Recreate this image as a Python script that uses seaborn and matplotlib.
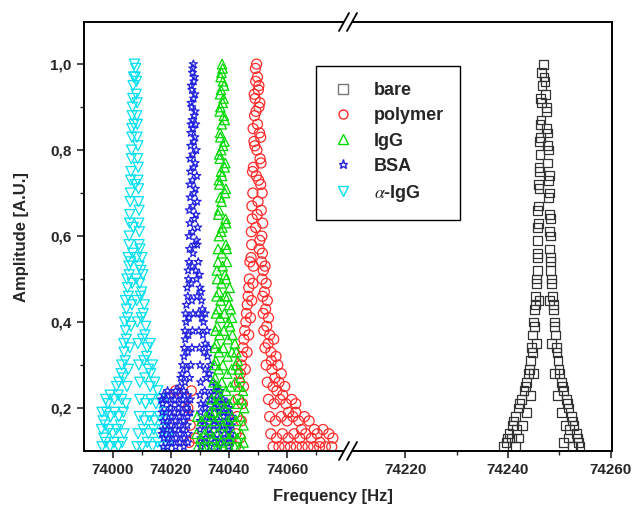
# Resonance peaks of a cantilever after each coating step (broken frequency axis)

import numpy as np
import pandas as pd
import matplotlib
matplotlib.use('Agg')
import matplotlib.pyplot as plt
import seaborn as sns
from matplotlib.lines import Line2D
from matplotlib.patches import Polygon
from matplotlib.ticker import FixedLocator, FuncFormatter

sns.set_style('ticks')
plt.rcParams['font.family'] = ['Liberation Sans', 'DejaVu Sans']
plt.rcParams['mathtext.fontset'] = 'stix'

# (frequency [Hz], amplitude)
bare_pts = [
    (74246.9, 1.00), (74247.0, 0.97), (74246.6, 0.95), (74247.3, 0.93), (74246.5, 0.91),
    (74247.4, 0.89), (74246.4, 0.87), (74247.5, 0.85), (74246.3, 0.83), (74247.6, 0.81),
    (74246.2, 0.79), (74247.7, 0.77), (74246.1, 0.75), (74247.8, 0.73), (74246.0, 0.71),
    (74247.9, 0.69), (74245.9, 0.67), (74248.0, 0.65), (74245.9, 0.63), (74248.1, 0.61),
    (74245.8, 0.59), (74248.1, 0.57),
    (74245.8, 0.55), (74245.7, 0.52), (74245.5, 0.49), (74245.4, 0.46), (74245.2, 0.43),
    (74245.0, 0.40), (74244.8, 0.37), (74244.6, 0.34), (74244.3, 0.31), (74244.0, 0.28),
    (74243.6, 0.26), (74243.1, 0.24), (74242.6, 0.22), (74242.0, 0.20), (74241.4, 0.18),
    (74240.8, 0.16), (74240.2, 0.14), (74239.6, 0.12), (74239.1, 0.11),
    (74246.0, 0.45), (74245.6, 0.35), (74245.0, 0.28), (74244.4, 0.23), (74243.6, 0.19),
    (74242.8, 0.16), (74242.0, 0.13), (74241.4, 0.11), (74240.6, 0.13), (74241.6, 0.15),
    (74248.2, 0.55), (74248.3, 0.52), (74248.5, 0.49), (74248.6, 0.46), (74248.8, 0.43),
    (74249.0, 0.40), (74249.2, 0.37), (74249.4, 0.34), (74249.7, 0.31), (74250.0, 0.28),
    (74250.4, 0.26), (74250.8, 0.24), (74251.3, 0.22), (74251.8, 0.20), (74252.3, 0.18),
    (74252.8, 0.16), (74253.3, 0.14), (74253.7, 0.12), (74254.0, 0.11),
    (74248.0, 0.45), (74248.4, 0.35), (74249.0, 0.28), (74249.6, 0.23), (74250.4, 0.19),
    (74251.2, 0.16), (74251.8, 0.13), (74252.6, 0.11), (74250.8, 0.12), (74252.0, 0.15),
    (74246.5, 0.98), (74247.2, 0.96), (74246.3, 0.92), (74247.5, 0.90), (74246.2, 0.86),
    (74247.7, 0.84), (74246.1, 0.82), (74247.8, 0.80), (74246.0, 0.76), (74248.0, 0.74),
    (74245.9, 0.72), (74248.1, 0.70), (74245.8, 0.66), (74248.2, 0.64), (74245.7, 0.62),
    (74248.3, 0.60), (74245.7, 0.56), (74248.3, 0.54), (74245.6, 0.50), (74248.5, 0.50),
    (74245.3, 0.44), (74248.8, 0.44), (74245.1, 0.39), (74249.1, 0.39), (74244.7, 0.33),
    (74249.5, 0.33), (74244.2, 0.29), (74249.9, 0.29), (74243.4, 0.25), (74250.6, 0.25),
    (74242.3, 0.21), (74251.5, 0.21), (74241.1, 0.17), (74252.5, 0.17), (74239.9, 0.13),
    (74253.5, 0.13),
]

polymer_pts = [
    (74049.5, 1.00), (74049.8, 0.97), (74049.2, 0.96), (74050.1, 0.94), (74049.0, 0.92),
    (74050.3, 0.90), (74048.8, 0.88), (74049.8, 0.86), (74050.5, 0.84), (74048.6, 0.82),
    (74049.6, 0.80), (74050.7, 0.78), (74048.4, 0.76), (74049.4, 0.74), (74050.9, 0.72),
    (74048.2, 0.70), (74050.0, 0.68), (74051.1, 0.66), (74048.0, 0.64), (74049.2, 0.62),
    (74051.3, 0.60), (74047.8, 0.58), (74050.4, 0.57), (74051.5, 0.56),
    (74047.2, 0.54), (74048.4, 0.53), (74047.0, 0.50), (74048.2, 0.49), (74046.6, 0.46),
    (74047.8, 0.45), (74046.0, 0.42), (74047.4, 0.41), (74045.4, 0.38), (74046.8, 0.37),
    (74044.8, 0.34), (74046.2, 0.33), (74044.2, 0.30), (74045.6, 0.29), (74043.6, 0.26),
    (74045.0, 0.25), (74043.2, 0.22), (74044.6, 0.21), (74042.8, 0.18), (74044.2, 0.17),
    (74042.4, 0.14), (74043.8, 0.13), (74042.2, 0.11),
    (74051.2, 0.54), (74052.4, 0.53), (74051.4, 0.50), (74052.8, 0.49), (74051.6, 0.46),
    (74053.2, 0.45), (74051.8, 0.42), (74053.6, 0.41), (74052.0, 0.38), (74054.0, 0.37),
    (74055.4, 0.36), (74052.4, 0.34), (74054.4, 0.33), (74056.2, 0.32), (74052.8, 0.30),
    (74054.8, 0.29), (74056.8, 0.30), (74058.0, 0.28),
    (74053.2, 0.26), (74055.2, 0.25), (74057.2, 0.26), (74059.2, 0.25), (74053.6, 0.22),
    (74055.6, 0.21), (74057.6, 0.22), (74059.6, 0.21), (74061.6, 0.22), (74063.0, 0.21),
    (74054.0, 0.18), (74056.0, 0.17), (74058.0, 0.18), (74060.0, 0.17), (74062.0, 0.18),
    (74064.0, 0.17), (74066.0, 0.18), (74067.6, 0.17), (74054.4, 0.14), (74056.4, 0.13),
    (74058.4, 0.14), (74060.4, 0.13), (74062.4, 0.14), (74064.4, 0.13), (74066.4, 0.14),
    (74068.4, 0.13), (74070.4, 0.14), (74072.4, 0.15), (74074.4, 0.14), (74075.8, 0.13),
    (74055.2, 0.11), (74057.2, 0.11), (74059.2, 0.11), (74061.2, 0.11), (74063.2, 0.11),
    (74065.2, 0.11), (74067.2, 0.11), (74069.2, 0.11), (74071.2, 0.11), (74073.2, 0.11),
    (74075.4, 0.11),
    (74026.2, 0.12), (74026.6, 0.16), (74025.8, 0.20), (74021.6, 0.24), (74027.0, 0.24),
    (74028.4, 0.13),
    (74049.1, 0.99), (74050.3, 0.95), (74048.7, 0.93), (74050.6, 0.91), (74049.3, 0.89),
    (74048.3, 0.85), (74050.9, 0.83), (74048.9, 0.81), (74051.0, 0.77), (74048.1, 0.75),
    (74050.2, 0.73), (74051.4, 0.70), (74047.9, 0.67), (74049.7, 0.65), (74051.6, 0.63),
    (74047.7, 0.61), (74050.6, 0.59), (74047.6, 0.55), (74051.8, 0.52), (74046.8, 0.48),
    (74052.2, 0.47), (74046.3, 0.44), (74052.6, 0.43), (74045.8, 0.40), (74053.0, 0.39),
    (74045.1, 0.36), (74053.5, 0.35), (74044.5, 0.32), (74054.6, 0.31), (74043.9, 0.28),
    (74055.8, 0.27), (74056.5, 0.24), (74058.5, 0.23), (74060.5, 0.19), (74063.0, 0.19),
    (74065.0, 0.15), (74069.4, 0.15), (74071.4, 0.12),
]

igg_pts = [
    (74037.6, 1.00), (74037.4, 0.98), (74037.9, 0.96), (74037.2, 0.94), (74038.1, 0.92),
    (74037.0, 0.90), (74038.2, 0.88), (74037.5, 0.86), (74036.9, 0.84), (74038.4, 0.82),
    (74037.3, 0.80), (74036.8, 0.78), (74038.5, 0.76), (74037.6, 0.74), (74036.7, 0.72),
    (74038.6, 0.70), (74037.4, 0.68), (74036.6, 0.66), (74038.8, 0.64), (74037.7, 0.62),
    (74036.5, 0.60), (74038.9, 0.58), (74037.5, 0.56),
    (74036.2, 0.54), (74037.8, 0.53), (74039.3, 0.54), (74035.9, 0.50), (74037.4, 0.49),
    (74039.0, 0.50), (74040.2, 0.48), (74035.7, 0.46), (74037.1, 0.45), (74038.6, 0.46),
    (74040.0, 0.44), (74035.5, 0.42), (74036.9, 0.41), (74038.4, 0.42), (74039.8, 0.40),
    (74041.0, 0.41), (74035.3, 0.38), (74036.7, 0.37), (74038.2, 0.38), (74039.6, 0.36),
    (74041.2, 0.37), (74035.1, 0.34), (74036.5, 0.33), (74038.0, 0.34), (74039.5, 0.32),
    (74041.0, 0.33), (74042.5, 0.33), (74035.0, 0.30), (74036.4, 0.29), (74037.9, 0.30),
    (74039.4, 0.28), (74040.9, 0.29), (74042.4, 0.30), (74043.4, 0.29),
    (74034.6, 0.26), (74036.0, 0.25), (74037.5, 0.26), (74039.0, 0.24), (74040.5, 0.25),
    (74042.0, 0.26), (74043.5, 0.25),
    (74034.0, 0.22), (74035.5, 0.21), (74037.0, 0.22), (74038.5, 0.20), (74040.0, 0.21),
    (74041.5, 0.22), (74043.0, 0.21), (74044.4, 0.22),
    (74029.0, 0.18), (74030.5, 0.17), (74032.0, 0.18), (74033.5, 0.19), (74035.0, 0.17),
    (74036.5, 0.18), (74038.0, 0.16), (74039.5, 0.17), (74041.0, 0.18), (74042.5, 0.17),
    (74044.0, 0.18), (74045.0, 0.16),
    (74028.8, 0.14), (74030.2, 0.13), (74031.6, 0.14), (74033.0, 0.15), (74034.4, 0.13),
    (74035.8, 0.14), (74037.2, 0.12), (74038.6, 0.14), (74040.0, 0.13), (74041.4, 0.14),
    (74042.8, 0.13), (74044.2, 0.14), (74045.0, 0.12),
    (74029.2, 0.11), (74030.8, 0.11), (74032.4, 0.11), (74034.0, 0.11), (74036.0, 0.11),
    (74038.0, 0.11), (74040.0, 0.11), (74042.0, 0.11), (74043.8, 0.11),
    (74037.8, 0.99), (74037.1, 0.97), (74038.3, 0.95), (74036.9, 0.93), (74037.8, 0.91),
    (74036.8, 0.89), (74038.5, 0.87), (74037.0, 0.83), (74038.0, 0.81), (74036.6, 0.79),
    (74038.7, 0.77), (74037.2, 0.75), (74036.5, 0.73), (74038.9, 0.71), (74037.0, 0.69),
    (74036.3, 0.65), (74039.0, 0.63), (74037.3, 0.61), (74036.2, 0.57), (74039.2, 0.57),
    (74035.8, 0.52), (74038.6, 0.51), (74036.5, 0.47), (74039.6, 0.46), (74036.2, 0.43),
    (74040.6, 0.43), (74035.9, 0.39), (74040.4, 0.39), (74035.6, 0.35), (74042.0, 0.35),
    (74035.4, 0.31), (74043.0, 0.31), (74035.2, 0.27), (74044.0, 0.27), (74036.2, 0.23),
    (74044.8, 0.24), (74034.8, 0.19), (74045.2, 0.20),
]

bsa_pts = [
    (74027.7, 1.00), (74027.4, 0.98), (74027.9, 0.96), (74027.2, 0.94), (74027.8, 0.92),
    (74027.1, 0.90), (74028.0, 0.88), (74026.9, 0.86), (74027.6, 0.85), (74028.2, 0.83),
    (74026.8, 0.81), (74027.5, 0.79), (74028.3, 0.77), (74026.7, 0.75), (74027.4, 0.73),
    (74028.4, 0.71), (74026.6, 0.69), (74027.5, 0.67), (74028.6, 0.65), (74026.5, 0.63),
    (74027.4, 0.61), (74028.8, 0.59), (74026.4, 0.57), (74027.6, 0.56), (74029.0, 0.58),
    (74026.2, 0.54), (74027.3, 0.53), (74028.5, 0.52), (74029.4, 0.54), (74026.0, 0.50),
    (74027.0, 0.49), (74028.8, 0.50), (74030.0, 0.48), (74025.8, 0.46), (74027.2, 0.45),
    (74029.0, 0.46), (74030.5, 0.45),
    (74025.0, 0.42), (74026.2, 0.41), (74027.6, 0.42), (74024.8, 0.38), (74026.0, 0.37),
    (74027.4, 0.38), (74024.6, 0.34), (74025.8, 0.33), (74027.2, 0.34), (74024.0, 0.30),
    (74025.4, 0.29), (74026.8, 0.30), (74023.4, 0.27), (74024.8, 0.26), (74026.4, 0.27),
    (74029.4, 0.42), (74030.6, 0.41), (74031.8, 0.42), (74029.6, 0.38), (74031.0, 0.37),
    (74032.4, 0.38), (74029.8, 0.34), (74031.4, 0.33), (74033.0, 0.34), (74030.0, 0.30),
    (74031.8, 0.29), (74033.6, 0.30), (74030.2, 0.26), (74032.2, 0.27), (74034.2, 0.26),
    (74035.8, 0.25),
    (74017.4, 0.23), (74018.8, 0.24), (74020.2, 0.23), (74021.6, 0.24), (74023.0, 0.23),
    (74024.4, 0.24), (74025.8, 0.23), (74017.1, 0.21), (74018.5, 0.22), (74019.9, 0.21),
    (74021.3, 0.22), (74022.7, 0.21), (74024.1, 0.22), (74025.5, 0.21), (74026.7, 0.22),
    (74017.0, 0.19), (74018.4, 0.19), (74019.8, 0.20), (74021.2, 0.19), (74022.6, 0.20),
    (74024.0, 0.19), (74025.4, 0.20), (74026.6, 0.19), (74017.3, 0.17), (74018.7, 0.17),
    (74020.1, 0.18), (74021.5, 0.17), (74022.9, 0.18), (74024.3, 0.17), (74025.7, 0.18),
    (74017.2, 0.15), (74018.6, 0.15), (74020.0, 0.16), (74021.4, 0.15), (74022.8, 0.16),
    (74024.2, 0.15), (74025.6, 0.16), (74017.5, 0.13), (74018.9, 0.13), (74020.3, 0.14),
    (74021.7, 0.13), (74023.1, 0.14), (74024.5, 0.13), (74025.9, 0.14), (74017.4, 0.11),
    (74018.8, 0.11), (74020.2, 0.12), (74021.6, 0.11), (74023.0, 0.12), (74024.4, 0.11),
    (74025.8, 0.12),
    (74030.0, 0.23), (74031.6, 0.24), (74033.2, 0.23), (74034.8, 0.23), (74036.4, 0.22),
    (74038.0, 0.22), (74039.4, 0.21), (74030.3, 0.21), (74031.9, 0.21), (74033.5, 0.22),
    (74035.1, 0.21), (74036.7, 0.20), (74038.3, 0.21), (74039.9, 0.20), (74030.2, 0.19),
    (74031.8, 0.20), (74033.4, 0.19), (74035.0, 0.20), (74036.6, 0.19), (74038.2, 0.19),
    (74039.8, 0.19), (74041.0, 0.18), (74030.1, 0.17), (74031.7, 0.17), (74033.3, 0.18),
    (74034.9, 0.17), (74036.5, 0.17), (74038.1, 0.18), (74039.7, 0.17), (74040.9, 0.16),
    (74030.0, 0.15), (74031.6, 0.16), (74033.2, 0.15), (74034.8, 0.16), (74036.4, 0.15),
    (74038.0, 0.16), (74039.6, 0.15), (74040.8, 0.14), (74030.3, 0.13), (74031.9, 0.13),
    (74033.5, 0.14), (74035.1, 0.13), (74036.7, 0.13), (74038.3, 0.14), (74039.9, 0.13),
    (74030.2, 0.11), (74031.8, 0.12), (74033.4, 0.11), (74035.0, 0.12), (74036.6, 0.11),
    (74038.2, 0.12), (74039.8, 0.11), (74040.6, 0.12),
    (74027.5, 0.99), (74028.1, 0.97), (74027.0, 0.95), (74028.2, 0.93), (74026.9, 0.91),
    (74028.3, 0.89), (74027.3, 0.87), (74028.5, 0.86), (74026.8, 0.84), (74027.9, 0.82),
    (74028.7, 0.80), (74026.6, 0.78), (74027.8, 0.76), (74028.9, 0.74), (74026.5, 0.72),
    (74027.9, 0.70), (74029.0, 0.68), (74026.3, 0.66), (74028.0, 0.64), (74029.2, 0.62),
    (74026.2, 0.60), (74028.0, 0.58), (74025.9, 0.52), (74029.8, 0.51), (74025.6, 0.48),
    (74030.3, 0.47), (74025.3, 0.44), (74030.8, 0.43), (74025.2, 0.40), (74031.2, 0.40),
    (74024.9, 0.36), (74031.8, 0.35), (74024.5, 0.32), (74032.6, 0.32), (74023.8, 0.28),
    (74033.2, 0.28), (74023.0, 0.25), (74034.8, 0.24), (74036.8, 0.24), (74016.8, 0.22),
    (74016.9, 0.14),
]

aigg_pts = [
    (74007.4, 1.00), (74007.6, 0.97), (74006.9, 0.95), (74008.0, 0.93), (74006.7, 0.90),
    (74008.2, 0.88), (74006.5, 0.85), (74008.3, 0.83), (74006.4, 0.80), (74008.5, 0.78),
    (74006.2, 0.75), (74008.6, 0.73), (74006.0, 0.70), (74008.8, 0.68), (74005.8, 0.65),
    (74008.9, 0.63), (74005.6, 0.60), (74009.0, 0.58), (74007.2, 0.86), (74007.6, 0.72),
    (74007.0, 0.62),
    (74005.2, 0.55), (74006.0, 0.54), (74006.8, 0.56), (74004.8, 0.50), (74005.6, 0.51),
    (74006.6, 0.49), (74004.3, 0.45), (74005.3, 0.46), (74006.5, 0.44), (74004.0, 0.40),
    (74005.0, 0.41), (74006.2, 0.39), (74003.7, 0.35), (74004.6, 0.36), (74005.8, 0.34),
    (74003.0, 0.30), (74004.2, 0.31), (74005.3, 0.29), (74002.0, 0.26), (74003.5, 0.27),
    (74004.8, 0.25),
    (73997.5, 0.22), (73999.0, 0.23), (74000.5, 0.22), (74001.8, 0.23), (74003.0, 0.22),
    (74004.5, 0.21), (73996.2, 0.19), (73997.8, 0.19), (73999.2, 0.18), (74000.5, 0.19),
    (74002.0, 0.18), (74003.6, 0.19), (73996.0, 0.15), (73997.3, 0.16), (73998.6, 0.15),
    (73999.9, 0.14), (74001.2, 0.15), (74002.6, 0.16), (74003.8, 0.14), (73996.2, 0.11),
    (73997.5, 0.12), (73999.0, 0.11), (74000.4, 0.12), (74001.8, 0.11), (74003.2, 0.12),
    (74008.2, 0.55), (74009.0, 0.53), (74010.0, 0.55), (74008.0, 0.50), (74009.2, 0.49),
    (74010.3, 0.51), (74008.2, 0.45), (74009.5, 0.46), (74010.8, 0.44), (74008.4, 0.40),
    (74009.8, 0.41), (74011.3, 0.39), (74008.6, 0.35), (74010.2, 0.36), (74011.8, 0.34),
    (74012.8, 0.35), (74008.9, 0.30), (74010.6, 0.31), (74012.2, 0.29), (74013.6, 0.30),
    (74009.2, 0.26), (74011.0, 0.27), (74012.8, 0.25), (74014.4, 0.26),
    (74009.2, 0.22), (74011.2, 0.21), (74013.0, 0.22), (74014.8, 0.21), (74016.3, 0.22),
    (74009.0, 0.18), (74010.8, 0.17), (74012.6, 0.18), (74014.4, 0.17), (74016.0, 0.18),
    (74017.6, 0.19), (74008.6, 0.14), (74010.4, 0.15), (74012.2, 0.14), (74014.0, 0.15),
    (74015.8, 0.14), (74017.5, 0.15), (74018.6, 0.14), (74008.2, 0.11), (74010.0, 0.11),
    (74011.8, 0.12), (74013.6, 0.11), (74015.4, 0.12), (74017.2, 0.11), (74018.8, 0.11),
    (74007.8, 0.99), (74007.1, 0.97), (74008.1, 0.96), (74006.8, 0.92), (74008.3, 0.91),
    (74006.6, 0.88), (74008.4, 0.86), (74006.5, 0.83), (74008.6, 0.81), (74006.3, 0.78),
    (74008.7, 0.76), (74006.1, 0.73), (74008.8, 0.71), (74005.9, 0.68), (74009.0, 0.66),
    (74005.7, 0.63), (74009.1, 0.61), (74005.5, 0.58), (74009.3, 0.57), (74005.5, 0.53),
    (74009.6, 0.52), (74005.0, 0.48), (74009.9, 0.47), (74004.6, 0.43), (74010.4, 0.42),
    (74004.3, 0.38), (74011.0, 0.37), (74003.8, 0.33), (74011.6, 0.32), (74002.8, 0.28),
    (74013.0, 0.28), (74001.2, 0.25), (74015.4, 0.24), (73998.2, 0.21), (74017.0, 0.21),
    (73996.6, 0.17), (74018.2, 0.17), (73996.8, 0.13), (74018.9, 0.13),
]

labels = ['bare', 'polymer', 'IgG', 'BSA', r'$\alpha$-IgG']
colors = ['#333333', '#FF2A2A', '#00D800', '#2222E0', '#00E0F0']
markers = ['s', 'o', '^', '*', 'v']
sizes = [40, 52, 46, 36, 52]

W, H = 634, 509


def box(x0, x1, y0, y1):
    return [x0 / W, 1 - y1 / H, (x1 - x0) / W, (y1 - y0) / H]


def fpx(x, y):
    return x / W, 1 - y / H


fig = plt.figure(figsize=(6.34, 5.09), dpi=100)
axL = fig.add_axes(box(84, 350, 22, 451))
axR = fig.add_axes(box(350, 612, 22, 451), sharey=axL)


def draw(ax, pts, i):
    df = pd.DataFrame(pts, columns=['freq', 'amp'])
    sns.scatterplot(data=df, x='freq', y='amp', ax=ax, marker=markers[i], s=sizes[i],
                    color=colors[i], facecolors='none', edgecolor=colors[i],
                    linewidth=0.9, legend=False)


draw(axR, bare_pts, 0)
draw(axL, polymer_pts, 1)
draw(axL, aigg_pts, 4)
draw(axL, bsa_pts, 3)
draw(axL, igg_pts, 2)

axL.set_xlim(73990, 74081.7)
axR.set_xlim(74209.3, 74260.2)
axL.set_ylim(0.1, 1.098)

axL.xaxis.set_major_locator(FixedLocator([74000, 74020, 74040, 74060]))
axL.xaxis.set_minor_locator(FixedLocator([74010, 74030, 74050, 74070]))
axR.xaxis.set_major_locator(FixedLocator([74220, 74240, 74260]))
axR.xaxis.set_minor_locator(FixedLocator([74230, 74250]))
axL.yaxis.set_major_locator(FixedLocator([0.2, 0.4, 0.6, 0.8, 1.0]))
axL.yaxis.set_minor_locator(FixedLocator([0.3, 0.5, 0.7, 0.9]))
axL.yaxis.set_major_formatter(FuncFormatter(lambda v, p: f'{v:.1f}'.replace('.', ',')))
axL.xaxis.set_major_formatter(FuncFormatter(lambda v, p: f'{v:.0f}'))
axR.xaxis.set_major_formatter(FuncFormatter(lambda v, p: f'{v:.0f}'))

for ax in (axL, axR):
    ax.set_xlabel('')
    ax.set_ylabel('')
    for sp in ax.spines.values():
        sp.set_linewidth(1.4)
        sp.set_color('black')
    ax.tick_params(which='major', direction='out', length=5, width=1.2, pad=4,
                   labelsize=11)
    ax.tick_params(which='minor', direction='out', length=3, width=1.0)
    for t in ax.get_xticklabels() + ax.get_yticklabels():
        t.set_fontweight('bold')

axL.spines['right'].set_visible(False)
axR.spines['left'].set_visible(False)
axR.tick_params(axis='y', which='both', left=False, labelleft=False)

fig.text(*fpx(333, 497), 'Frequency [Hz]', ha='center', va='center',
         fontsize=12, fontweight='bold')
fig.text(*fpx(22, 237), 'Amplitude [A.U.]', ha='center', va='center', rotation=90,
         fontsize=12, fontweight='bold')

# axis break marks
for yb in (22, 451):
    gap = Polygon([fpx(339, yb + 9), fpx(349, yb - 9), fpx(357, yb - 9), fpx(347, yb + 9)],
                  closed=True, transform=fig.transFigure, facecolor='white',
                  edgecolor='none', zorder=20)
    fig.add_artist(gap)
    for x0 in (339, 347):
        fig.add_artist(Line2D([x0 / W, (x0 + 10) / W], [1 - (yb + 9) / H, 1 - (yb - 9) / H],
                              transform=fig.transFigure, color='black', lw=1.3, zorder=21))

handles = [Line2D([], [], ls='none', marker=m, mfc='none', mec=c, ms=6.5, mew=1.0)
           for m, c in zip(markers, colors)]
handles[0].set_markeredgecolor('#777777')
leg = fig.legend(handles, labels, loc='upper left', bbox_to_anchor=fpx(316, 66),
                 bbox_transform=fig.transFigure, frameon=True, fancybox=False,
                 framealpha=1, edgecolor='black', borderpad=0.9, labelspacing=0.45,
                 handlelength=1.2, handletextpad=1.1, borderaxespad=0,
                 prop={'weight': 'bold', 'size': 13})
leg.get_frame().set_linewidth(1.0)

fig.savefig('out.png', dpi=100)
